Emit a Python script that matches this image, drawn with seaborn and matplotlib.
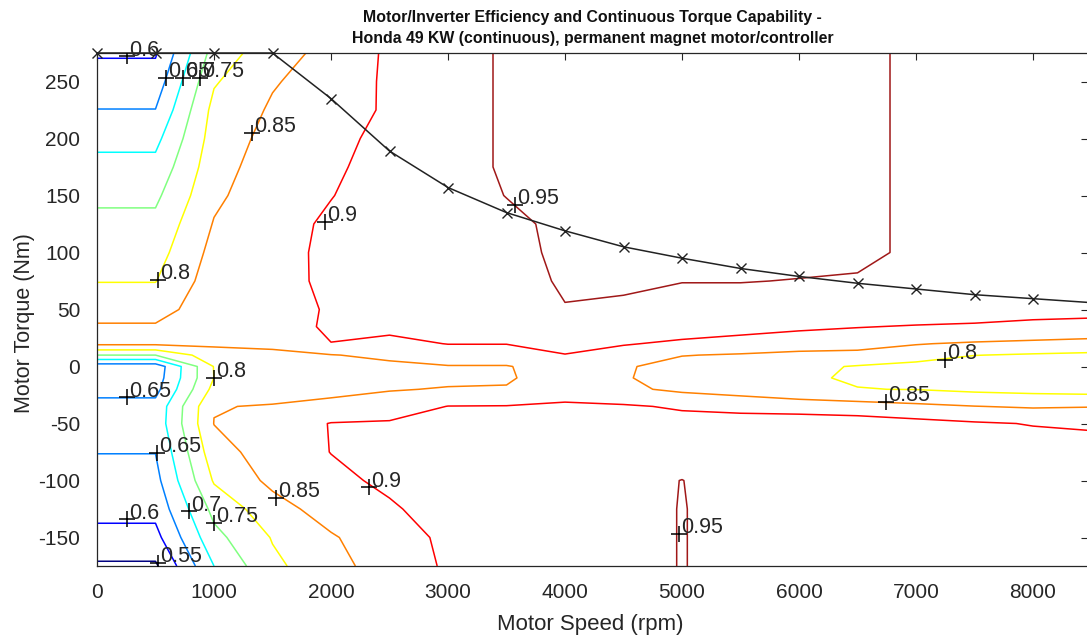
import numpy as np
import matplotlib
matplotlib.use("Agg")
import matplotlib.pyplot as plt
import seaborn as sns
from matplotlib import font_manager

# -----------------------------
# Data read from the efficiency map
# -----------------------------
speed_grid = [0, 500, 1000, 1500, 2000, 2500, 3000, 3500, 4000,
              4500, 5000, 5500, 6000, 6500, 7000, 7500, 8000, 8500]
torque_grid = [-175, -150, -125, -100, -75, -50, -35, -20, -10, 0, 10, 20,
               35, 50, 75, 100, 125, 150, 175, 200, 225, 250, 275]

# efficiency along torque_grid, one list per speed
eff_0000 = [0.543, 0.585, 0.615, 0.635, 0.651, 0.668, 0.665, 0.635, 0.625, 0.62, 0.75, 0.86,
            0.855, 0.83, 0.7985, 0.78, 0.763, 0.74, 0.715, 0.686, 0.651, 0.622, 0.595]
eff_0500 = [0.543, 0.585, 0.615, 0.635, 0.651, 0.668, 0.665, 0.635, 0.625, 0.62, 0.75, 0.86,
            0.855, 0.83, 0.7985, 0.78, 0.763, 0.74, 0.715, 0.686, 0.651, 0.622, 0.595]
eff_1000 = [0.70, 0.735, 0.765, 0.805, 0.83, 0.851, 0.848, 0.815, 0.8005, 0.802, 0.83, 0.858,
            0.875, 0.88, 0.875, 0.865, 0.853, 0.84, 0.83, 0.822, 0.815, 0.795, 0.77]
eff_1500 = [0.79, 0.803, 0.83, 0.862, 0.874, 0.87, 0.853, 0.83, 0.815, 0.82, 0.84, 0.86,
            0.87, 0.87, 0.875, 0.884, 0.888, 0.882, 0.875, 0.866, 0.856, 0.846, 0.83]
eff_2000 = [0.83, 0.845, 0.872, 0.89, 0.9008, 0.902, 0.86, 0.84, 0.825, 0.83, 0.848, 0.899,
            0.91, 0.9075, 0.915, 0.91, 0.905, 0.899, 0.895, 0.888, 0.88, 0.872, 0.865]
eff_2500 = [0.878, 0.88, 0.895, 0.908, 0.915, 0.905, 0.875, 0.847, 0.835, 0.84, 0.86, 0.89,
            0.91, 0.93, 0.93, 0.925, 0.92, 0.915, 0.912, 0.912, 0.906, 0.908, 0.908]
eff_3000 = [0.905, 0.909, 0.917, 0.93, 0.93, 0.92, 0.901, 0.853, 0.84, 0.847, 0.88, 0.901,
            0.92, 0.935, 0.935, 0.935, 0.932, 0.93, 0.93, 0.93, 0.93, 0.93, 0.93]
eff_3500 = [0.93, 0.935, 0.94, 0.94, 0.935, 0.925, 0.902, 0.853, 0.845, 0.847, 0.88, 0.901,
            0.915, 0.925, 0.93, 0.935, 0.94, 0.951, 0.956, 0.956, 0.956, 0.956, 0.956]
eff_4000 = [0.94, 0.94, 0.94, 0.94, 0.935, 0.925, 0.905, 0.885, 0.873, 0.875, 0.899, 0.91,
            0.93, 0.948, 0.956, 0.96, 0.96, 0.96, 0.96, 0.96, 0.96, 0.96, 0.96]
eff_4500 = [0.94, 0.94, 0.94, 0.94, 0.935, 0.925, 0.905, 0.86, 0.855, 0.856, 0.888, 0.902,
            0.925, 0.945, 0.955, 0.96, 0.96, 0.96, 0.96, 0.96, 0.96, 0.96, 0.96]
eff_5000 = [0.951, 0.951, 0.951, 0.9505, 0.935, 0.915, 0.895, 0.84, 0.825, 0.83, 0.852, 0.895,
            0.915, 0.935, 0.951, 0.96, 0.96, 0.96, 0.96, 0.96, 0.96, 0.96, 0.96]
eff_5500 = [0.94, 0.94, 0.94, 0.935, 0.93, 0.915, 0.89, 0.825, 0.815, 0.82, 0.845, 0.89,
            0.91, 0.935, 0.951, 0.96, 0.96, 0.96, 0.96, 0.96, 0.96, 0.96, 0.96]
eff_6000 = [0.94, 0.94, 0.94, 0.94, 0.935, 0.93, 0.875, 0.815, 0.805, 0.81, 0.84, 0.87,
            0.91, 0.935, 0.949, 0.96, 0.96, 0.96, 0.96, 0.96, 0.96, 0.96, 0.96]
eff_6500 = [0.94, 0.94, 0.94, 0.94, 0.935, 0.925, 0.87, 0.801, 0.796, 0.797, 0.835, 0.87,
            0.902, 0.935, 0.948, 0.955, 0.955, 0.955, 0.955, 0.955, 0.955, 0.955, 0.955]
eff_7000 = [0.935, 0.935, 0.935, 0.935, 0.93, 0.915, 0.86, 0.799, 0.775, 0.78, 0.83, 0.852,
            0.897, 0.93, 0.94, 0.946, 0.946, 0.946, 0.946, 0.946, 0.946, 0.946, 0.946]
eff_7500 = [0.93, 0.93, 0.93, 0.93, 0.925, 0.905, 0.851, 0.79, 0.765, 0.77, 0.801, 0.845,
            0.895, 0.92, 0.935, 0.94, 0.94, 0.94, 0.94, 0.94, 0.94, 0.94, 0.94]
eff_8000 = [0.93, 0.93, 0.93, 0.93, 0.92, 0.898, 0.845, 0.785, 0.76, 0.765, 0.795, 0.84,
            0.89, 0.915, 0.93, 0.935, 0.935, 0.935, 0.935, 0.935, 0.935, 0.935, 0.935]
eff_8500 = [0.925, 0.925, 0.925, 0.925, 0.915, 0.895, 0.848, 0.78, 0.755, 0.76, 0.79, 0.835,
            0.885, 0.915, 0.925, 0.93, 0.93, 0.93, 0.93, 0.93, 0.93, 0.93, 0.93]

eff_levels = [0.55, 0.6, 0.65, 0.7, 0.75, 0.8, 0.85, 0.9, 0.95]

# continuous torque curve
cont_speed = [0, 500, 1000, 1500, 2000, 2500, 3000, 3500, 4000,
              4500, 5000, 5500, 6000, 6500, 7000, 7500, 8000, 8500]
cont_torque = [275, 275, 275, 275, 235, 189, 157, 135, 119,
               105, 95, 86, 79, 73, 68, 63, 59.5, 56]

# contour label positions
label_speed = [253, 590, 737, 880, 1321, 524, 1948, 3571,
               1000, 253, 510, 253, 524, 789, 1000, 1527, 2326, 4972, 7250, 6745]
label_torque = [272, 253, 253, 253, 205, 76, 127, 142,
                -10, -27, -76, -134, -172, -127, -137, -115, -106, -147, 6, -31]
label_text = ["0.6", "0.65", "0.7", "0.75", "0.85", "0.8", "0.9", "0.95",
              "0.8", "0.65", "0.65", "0.6", "0.55", "0.7", "0.75", "0.85", "0.9", "0.95", "0.8", "0.85"]

# -----------------------------
# Figure
# -----------------------------
sns.set_style("white")
installed = {f.name for f in font_manager.fontManager.ttflist}
plt.rcParams['font.family'] = ['Liberation Sans', 'DejaVu Sans']
plt.rcParams['axes.unicode_minus'] = False

# MATLAB style jet colours, one per level
jet_colors = ['#000080', '#0000ff', '#0080ff', '#00ffff', '#80ff80',
              '#ffff00', '#ff8000', '#ff0000', '#a01818']

eff = np.column_stack([eff_0000, eff_0500, eff_1000, eff_1500, eff_2000, eff_2500,
                       eff_3000, eff_3500, eff_4000, eff_4500, eff_5000, eff_5500,
                       eff_6000, eff_6500, eff_7000, eff_7500, eff_8000, eff_8500])

fig = plt.figure(figsize=(10.87, 6.39), dpi=100)
ax = fig.add_axes([97 / 1087, 73 / 639, 991 / 1087, 513 / 639])

ax.contour(speed_grid, torque_grid, eff, levels=eff_levels, colors=jet_colors,
           linewidths=1.1)

sns.lineplot(x=cont_speed, y=cont_torque, ax=ax, color='#222222', linewidth=1.1,
             marker='x', markersize=7, markeredgewidth=1.0, markeredgecolor='#222222',
             clip_on=False, zorder=5)

ax.plot(label_speed, label_torque, '+', color='black', markersize=11, markeredgewidth=1.1,
        linestyle='none', zorder=6)
for sx, ty, txt in zip(label_speed, label_torque, label_text):
    ax.annotate(txt, (sx, ty), xytext=(1.5, 0.5), textcoords='offset points',
                ha='left', va='baseline', fontsize=15.5, color='#262626', zorder=7)

ax.set_xlim(0, 8470)
ax.set_ylim(-175, 275)
ax.set_xticks(range(0, 8001, 1000))
ax.set_yticks(range(-150, 251, 50))
ax.tick_params(direction='in', length=5, width=0.8, top=True, right=True,
               labelsize=15, labelcolor='#262626', colors='#262626')
ax.tick_params(axis='x', pad=12)
ax.tick_params(axis='y', pad=12)
for sp in ax.spines.values():
    sp.set_color('#262626')
    sp.set_linewidth(0.9)

ax.set_xlabel('Motor Speed (rpm)', fontsize=16, color='#262626')
ax.set_ylabel('Motor Torque (Nm)', fontsize=15.5, color='#262626')
ax.xaxis.set_label_coords(0.498, -0.115)
ax.xaxis.label.set_verticalalignment('center')
ax.yaxis.set_label_coords(-0.0727, 0.473)
ax.yaxis.label.set_verticalalignment('center')

title = ('Motor/Inverter Efficiency and Continuous Torque Capability -\n'
         'Honda 49 KW (continuous), permanent magnet motor/controller')
if 'Liberation Sans Narrow' in installed:
    ax.set_title(title, fontsize=12.5, fontweight='bold', color='#111111', pad=7,
                 family=['Liberation Sans Narrow', 'DejaVu Sans'], linespacing=1.4)
else:
    ax.set_title(title, fontsize=11.4, fontweight='bold', color='#111111', pad=7,
                 linespacing=1.5)

fig.savefig('out.png', dpi=100)
